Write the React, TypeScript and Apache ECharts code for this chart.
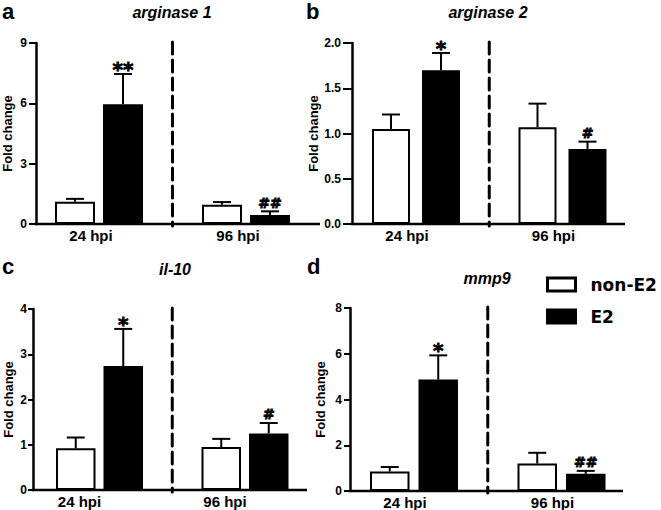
import React, { useEffect, useRef } from "react";
import * as echarts from "echarts";

// ---------- data ----------
const categories = ["24 hpi", "96 hpi"];
const groupNames = ["non-E2", "E2"];
const panelLetters = ["a", "b", "c", "d"];
const panelTitles = ["arginase 1", "arginase 2", "il-10", "mmp9"];
const yAxisName = "Fold change";

const yMax = [9, 2, 4, 8];
const yInterval = [3, 0.5, 1, 2];
const yDecimals = [0, 1, 0, 0];

// arginase 1
const arg1NonE2 = [1.11, 0.96];
const arg1E2 = [5.95, 0.45];
const arg1NonE2Err = [0.14, 0.13];
const arg1E2Err = [1.51, 0.18];
const arg1NonE2Marks = ["", ""];
const arg1E2Marks = ["**", "##"];

// arginase 2
const arg2NonE2 = [1.05, 1.07];
const arg2E2 = [1.7, 0.83];
const arg2NonE2Err = [0.16, 0.26];
const arg2E2Err = [0.19, 0.08];
const arg2NonE2Marks = ["", ""];
const arg2E2Marks = ["*", "#"];

// il-10
const il10NonE2 = [0.92, 0.95];
const il10E2 = [2.74, 1.25];
const il10NonE2Err = [0.24, 0.18];
const il10E2Err = [0.82, 0.23];
const il10NonE2Marks = ["", ""];
const il10E2Marks = ["*", "#"];

// mmp9
const mmp9NonE2 = [0.85, 1.2];
const mmp9E2 = [4.87, 0.75];
const mmp9NonE2Err = [0.2, 0.47];
const mmp9E2Err = [1.06, 0.13];
const mmp9NonE2Marks = ["", ""];
const mmp9E2Marks = ["*", "##"];

const nonE2Values = [arg1NonE2, arg2NonE2, il10NonE2, mmp9NonE2];
const e2Values = [arg1E2, arg2E2, il10E2, mmp9E2];
const nonE2Errors = [arg1NonE2Err, arg2NonE2Err, il10NonE2Err, mmp9NonE2Err];
const e2Errors = [arg1E2Err, arg2E2Err, il10E2Err, mmp9E2Err];
const nonE2Marks = [arg1NonE2Marks, arg2NonE2Marks, il10NonE2Marks, mmp9NonE2Marks];
const e2Marks = [arg1E2Marks, arg2E2Marks, il10E2Marks, mmp9E2Marks];

// ---------- layout ----------
const layouts = [
  { gridLeft: 25.5, gridWidth: 294, top: 43, height: 181, axisX: 36, axisEnd: 320, barWidth: 40, barGapPx: 8, labelShift: 8, labelMargin: 9, tickLen: 7, nameGap: 22, titleX: 172, titleY: 12.4, letterX: 2, letterY: 11 },
  { gridLeft: 342.75, gridWidth: 293, top: 43, height: 181, axisX: 352, axisEnd: 625, barWidth: 38, barGapPx: 12, labelShift: 9, labelMargin: 11, tickLen: 9, nameGap: 31, titleX: 488, titleY: 12.4, letterX: 306, letterY: 11 },
  { gridLeft: 26.75, gridWidth: 291, top: 309, height: 181, axisX: 33, axisEnd: 307, barWidth: 39.5, barGapPx: 8, labelShift: 20, labelMargin: 6, tickLen: 5, nameGap: 18.5, titleX: 175, titleY: 269.4, letterX: 2, letterY: 266 },
  { gridLeft: 340.25, gridWidth: 295, top: 308, height: 183, axisX: 350, axisEnd: 623, barWidth: 39.5, barGapPx: 9, labelShift: 9, labelMargin: 8, tickLen: 6, nameGap: 23, titleX: 487, titleY: 278.4, letterX: 307, letterY: 266 },
];

const FONT = '"Liberation Sans", Arial, sans-serif';
const WIDE = '"DejaVu Sans", sans-serif';
const CAP_HALF = 9;

function buildOption() {
  const grid = layouts.map((L) => ({ left: L.gridLeft, top: L.top, width: L.gridWidth, height: L.height }));
  const xAxis = layouts.map((L, i) => ({
    type: "category",
    gridIndex: i,
    data: categories,
    axisLine: { show: false },
    axisTick: { show: false },
    axisLabel: {
      margin: 4,
      fontSize: 15,
      fontWeight: "bold",
      fontFamily: FONT,
      color: "#000",
      padding: [0, L.labelShift * 2, 0, 0],
    },
  }));
  const yAxis = layouts.map((L, i) => ({
    type: "value",
    gridIndex: i,
    min: 0,
    max: yMax[i],
    interval: yInterval[i],
    offset: L.gridLeft - L.axisX,
    splitLine: { show: false },
    axisLine: { show: true, lineStyle: { color: "#000", width: 2.5 } },
    axisTick: { show: true, length: L.tickLen, lineStyle: { color: "#000", width: 2 } },
    axisLabel: {
      margin: L.labelMargin,
      fontSize: 12,
      fontWeight: "bold",
      fontFamily: FONT,
      color: "#000",
      formatter: (v: number) => v.toFixed(yDecimals[i]),
    },
    name: yAxisName,
    nameLocation: "middle",
    nameGap: L.nameGap,
    nameTextStyle: { fontSize: 13, fontWeight: "bold", fontFamily: FONT, color: "#000" },
  }));

  const series: any[] = [];
  layouts.forEach((L, i) => {
    const barGap = (L.barGapPx / L.barWidth) * 100 + "%";
    series.push({
      type: "bar",
      name: groupNames[0],
      xAxisIndex: i,
      yAxisIndex: i,
      data: nonE2Values[i],
      barWidth: L.barWidth,
      barGap,
      itemStyle: { color: "#fff", borderColor: "#000", borderWidth: 2 },
    });
    series.push({
      type: "bar",
      name: groupNames[1],
      xAxisIndex: i,
      yAxisIndex: i,
      data: e2Values[i],
      barWidth: L.barWidth,
      barGap,
      itemStyle: { color: "#000", borderColor: "#000", borderWidth: 2 },
    });
    const errData: number[][] = [];
    const marks: string[] = [];
    categories.forEach((_, c) => {
      errData.push([c, nonE2Values[i][c], nonE2Errors[i][c], 0]);
      marks.push(nonE2Marks[i][c]);
      errData.push([c, e2Values[i][c], e2Errors[i][c], 1]);
      marks.push(e2Marks[i][c]);
    });
    const step = (L.barWidth + L.barGapPx) / 2;
    series.push({
      type: "custom",
      xAxisIndex: i,
      yAxisIndex: i,
      data: errData,
      z: 5,
      clip: false,
      renderItem: (params: any, api: any) => {
        const cat = api.value(0);
        const v = api.value(1);
        const e = api.value(2);
        const s = api.value(3);
        const p0 = api.coord([cat, v]);
        const p1 = api.coord([cat, v + e]);
        const x = p0[0] + (s === 0 ? -step : step);
        const mark = marks[params.dataIndex];
        const children: any[] = [
          { type: "line", shape: { x1: x, y1: p0[1], x2: x, y2: p1[1] }, style: { stroke: "#000", lineWidth: 2 } },
          { type: "line", shape: { x1: x - CAP_HALF, y1: p1[1], x2: x + CAP_HALF, y2: p1[1] }, style: { stroke: "#000", lineWidth: 2 } },
        ];
        if (mark) {
          const star = mark.indexOf("*") >= 0;
          children.push({
            type: "text",
            x,
            y: star ? p1[1] - 5 : p1[1] - 8.8,
            style: {
              text: mark,
              font: star ? `bold 20px ${WIDE}` : `bold 14px ${WIDE}`,
              textAlign: "center",
              textVerticalAlign: "middle",
              fill: "#000",
              stroke: "#000",
              lineWidth: 0.8,
            },
          });
        }
        return { type: "group", children };
      },
    });
    series.push({
      type: "custom",
      xAxisIndex: i,
      yAxisIndex: i,
      data: [[0, 0]],
      z: 4,
      clip: false,
      silent: true,
      renderItem: (params: any, api: any) => {
        const cs = params.coordSys;
        const a = api.coord([0, 0]);
        const b = api.coord([1, 0]);
        const mid = (a[0] + b[0]) / 2;
        return {
          type: "group",
          children: [
            { type: "line", shape: { x1: L.axisX - 1.25, y1: a[1], x2: L.axisEnd, y2: a[1] }, style: { stroke: "#000", lineWidth: 2.5 } },
            {
              type: "line",
              shape: { x1: mid, y1: cs.y - 1, x2: mid, y2: cs.y + cs.height + 2 },
              style: { stroke: "#000", lineWidth: 3, lineDash: [12, 6], lineCap: "round" },
            },
          ],
        };
      },
    });
  });

  const graphic: any[] = [];
  layouts.forEach((L, i) => {
    graphic.push({
      type: "text",
      x: L.titleX,
      y: L.titleY,
      style: { text: panelTitles[i], font: `italic bold 16px ${FONT}`, textAlign: "center", textVerticalAlign: "middle", fill: "#000" },
    });
    graphic.push({
      type: "text",
      x: L.letterX,
      y: L.letterY,
      style: { text: panelLetters[i], font: `bold 22px ${FONT}`, textAlign: "left", textVerticalAlign: "middle", fill: "#000" },
    });
  });

  return {
    animation: false,
    backgroundColor: "#fff",
    grid,
    xAxis,
    yAxis,
    series,
    graphic,
    legend: {
      orient: "vertical",
      left: 546,
      top: 276,
      padding: 0,
      itemWidth: 28,
      itemHeight: 13,
      itemGap: 15,
      selectedMode: false,
      data: [
        { name: groupNames[0], icon: "rect", itemStyle: { color: "#fff", borderColor: "#000", borderWidth: 3 } },
        { name: groupNames[1], icon: "rect", itemStyle: { color: "#000", borderColor: "#000", borderWidth: 3 } },
      ],
      textStyle: { fontSize: 17, fontWeight: "bold", fontFamily: WIDE, color: "#000", padding: [0, 0, 0, 10] },
    },
  };
}

export default function App() {
  const ref = useRef<HTMLDivElement>(null);
  useEffect(() => {
    document.body.style.margin = "0";
    if (!ref.current) return;
    const chart = echarts.init(ref.current, undefined, { renderer: "svg" });
    chart.setOption(buildOption() as any);
    return () => chart.dispose();
  }, []);
  return <div ref={ref} style={{ width: 661, height: 510 }} />;
}
